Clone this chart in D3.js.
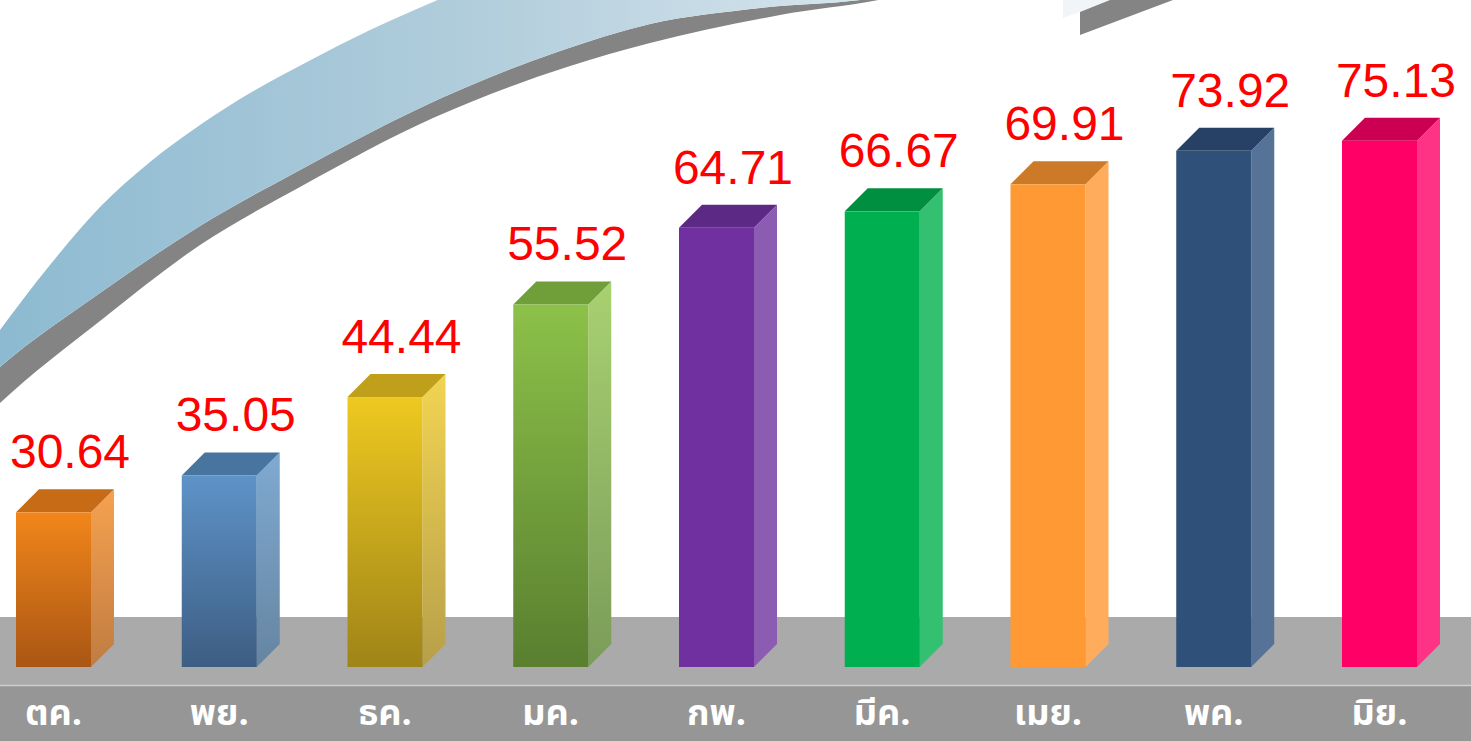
<!DOCTYPE html>
<html>
<head>
<meta charset="utf-8">
<script src="https://d3js.org/d3.v7.min.js"></script>
<style>
  html, body { margin: 0; padding: 0; background: #ffffff; overflow: hidden; }
  svg { display: block; }
</style>
</head>
<body>
<svg id="chart" width="1471" height="741"></svg>
<script>
// ---- data ----
const categories = ["ตค.", "พย.", "ธค.", "มค.", "กพ.", "มีค.", "เมย.", "พค.", "มิย."];
const values = [30.64, 35.05, 44.44, 55.52, 64.71, 66.67, 69.91, 73.92, 75.13];

// ---- styles ----
const frontTop    = ["#f2861a", "#5e93c8", "#eec920", "#8cc149", "#7030a0", "#00b050", "#ff9933", "#2f5079", "#ff0066"];
const frontBottom = ["#a95614", "#3d5d83", "#9f8418", "#597f2f", "#7030a0", "#00b050", "#ff9933", "#2f5079", "#ff0066"];
const sideTop     = ["#f6a24f", "#80aad2", "#f2d452", "#a8d171", "#8b5cb2", "#33c071", "#ffad5c", "#567296", "#ff3385"];
const sideBottom  = ["#c07c42", "#6585a1", "#b79f49", "#7a9c59", "#8b5cb2", "#33c071", "#ffad5c", "#567296", "#ff3385"];
const topFace     = ["#c76b17", "#4874a0", "#c0a01a", "#709f39", "#5c2a84", "#008f40", "#cc7a28", "#264066", "#cc0052"];

const W = 1471, H = 741;
const svg = d3.select("#chart");
const defs = svg.append("defs");

// ---- background arrow (decorative) ----
const arrowGrad = defs.append("linearGradient")
  .attr("id", "arrowGrad").attr("gradientUnits", "userSpaceOnUse")
  .attr("x1", 0).attr("y1", 0).attr("x2", 1100).attr("y2", 0);
arrowGrad.append("stop").attr("offset", 0).attr("stop-color", "#8dbad1");
arrowGrad.append("stop").attr("offset", 0.45).attr("stop-color", "#b3cedc");
arrowGrad.append("stop").attr("offset", 0.78).attr("stop-color", "#d6e5ed");
arrowGrad.append("stop").attr("offset", 1).attr("stop-color", "#f6f9fb");

const edge = d3.line().curve(d3.curveMonotoneX);
const upperEdge = [[-30, 372], [0, 330], [50, 265], [100, 207], [150, 162], [200, 125], [250, 93], [307, 62], [370, 30], [433, 2], [480, -18], [700, -60], [1000, -60]];
const midEdge = [[-30, 394], [0, 367], [100, 293], [200, 226], [300, 170], [420, 108], [560, 51], [650, 24], [760, 8], [880, -3], [1000, -40]];
const lowerEdge = [[-30, 432], [0, 403], [100, 321], [200, 245], [300, 187], [433, 118], [567, 67], [650, 43], [780, 15], [900, -5], [1000, -40]];

function band(a, b) {
  const p1 = edge(a);
  const p2 = edge(b.slice().reverse());
  return p1 + "L" + p2.slice(1) + "Z";
}
const arrowG = svg.append("g");
arrowG.append("path")
  .attr("d", band(midEdge, lowerEdge))
  .attr("fill", "#848484");
arrowG.append("path")
  .attr("d", band(upperEdge, midEdge))
  .attr("fill", "url(#arrowGrad)");
// arrow head fragment at top
arrowG.append("path")
  .attr("d", d3.line()([[1063, 0], [1063, 18], [1080, 12], [1110, 0]]) + "Z")
  .attr("fill", "#f1f5f8");
arrowG.append("path")
  .attr("d", d3.line()([[1080, 12], [1110, 0], [1173, 0], [1080, 35]]) + "Z")
  .attr("fill", "#848484");

// ---- floor ----
svg.append("rect").attr("x", 0).attr("y", 617).attr("width", W).attr("height", 69).attr("fill", "#aaaaaa");
svg.append("rect").attr("x", 0).attr("y", 686).attr("width", W).attr("height", H - 686).attr("fill", "#969696");
svg.append("line").attr("x1", 0).attr("x2", W).attr("y1", 685.5).attr("y2", 685.5)
  .attr("stroke", "#cfcfcf").attr("stroke-width", 1.5);

// ---- scales ----
const baseY = 667;
const x = d3.scaleBand().domain(categories).range([16, 1417]).paddingInner(0.5475).paddingOuter(0);
const y = d3.scaleLinear().domain([12.12, 80]).range([baseY, 100]);
const bw = x.bandwidth();
const D = 23;

// gradients per bar
categories.forEach((c, i) => {
  const gf = defs.append("linearGradient").attr("id", "gf" + i).attr("x1", 0).attr("y1", 0).attr("x2", 0).attr("y2", 1);
  gf.append("stop").attr("offset", 0).attr("stop-color", frontTop[i]);
  gf.append("stop").attr("offset", 1).attr("stop-color", frontBottom[i]);
  const gs = defs.append("linearGradient").attr("id", "gs" + i).attr("x1", 0).attr("y1", 0).attr("x2", 0).attr("y2", 1);
  gs.append("stop").attr("offset", 0).attr("stop-color", sideTop[i]);
  gs.append("stop").attr("offset", 1).attr("stop-color", sideBottom[i]);
});

const data = categories.map((c, i) => ({ c, v: values[i], i }));
const bars = svg.append("g").selectAll("g.bar").data(data).join("g").attr("class", "bar");

// side face
bars.append("path")
  .attr("d", d => {
    const L = x(d.c), R = L + bw, T = y(d.v);
    return d3.line()([[R, T], [R + D, T - D], [R + D, baseY - D], [R, baseY]]) + "Z";
  })
  .attr("fill", d => "url(#gs" + d.i + ")");
// top face
bars.append("path")
  .attr("d", d => {
    const L = x(d.c), R = L + bw, T = y(d.v);
    return d3.line()([[L, T], [L + D, T - D], [R + D, T - D], [R, T]]) + "Z";
  })
  .attr("fill", d => topFace[d.i]);
// front face
bars.append("rect")
  .attr("x", d => x(d.c))
  .attr("y", d => y(d.v))
  .attr("width", bw)
  .attr("height", d => baseY - y(d.v))
  .attr("fill", d => "url(#gf" + d.i + ")");

// value labels
const fmt = d3.format(".2f");
bars.append("text")
  .attr("x", d => x(d.c) + 54)
  .attr("y", d => y(d.v) - 44)
  .attr("text-anchor", "middle")
  .attr("font-family", "'Liberation Sans', Arial, sans-serif")
  .attr("font-size", 48)
  .attr("fill", "#ff0000")
  .text(d => fmt(d.v));

// category labels (x axis)
const xAxis = d3.axisBottom(x).tickSize(0).tickPadding(0);
const axG = svg.append("g").attr("transform", "translate(0,700)").call(xAxis);
axG.select(".domain").remove();
axG.selectAll("text")
  .attr("y", 25)
  .attr("dy", 0)
  .attr("font-family", "'Noto Sans Thai', 'Leelawadee UI', Tahoma, 'DejaVu Sans', sans-serif")
  .attr("font-size", 36)
  .attr("font-weight", "bold")
  .attr("fill", "#ffffff");
</script>
</body>
</html>
